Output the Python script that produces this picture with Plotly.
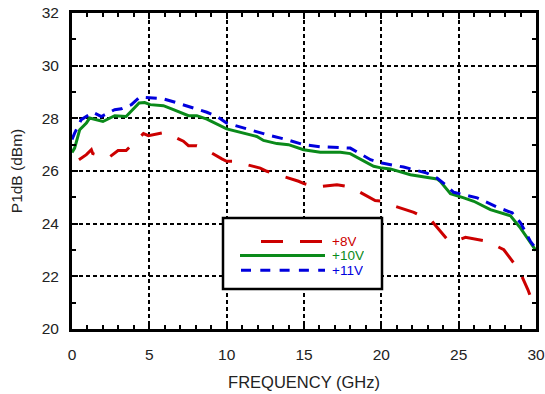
import plotly.graph_objects as go

# +8V
freq_8 = [0.45, 0.93, 1.25, 1.34, 2.33, 2.98, 3.5, 4.62, 4.94, 6.02, 7.2, 7.53, 8.07, 8.4,
          9.69, 10.0, 10.44, 10.87, 12.17, 12.6, 13.35, 14.65, 15.0, 15.84, 17.13, 18.0, 18.32,
          19.6, 20.04, 20.79, 22.1, 23.28, 24.36, 24.79, 25.44, 26.84, 27.92, 28.89, 29.48, 29.6]
p1db_8 = [26.43, 26.62, 26.81, 26.66, 26.49, 26.78, 26.78, 27.42, 27.34, 27.47, 27.13, 26.96, 26.96, 26.9,
          26.46, 26.37, 26.37, 26.3, 26.11, 25.99, 25.86, 25.61, 25.52, 25.39, 25.48, 25.39, 25.29,
          24.88, 24.85, 24.68, 24.43, 24.09, 23.33, 23.33, 23.48, 23.33, 23.01, 22.25, 21.49, 21.3]

# +10V
freq_10 = [0.0, 0.17, 0.5, 0.93, 1.14, 2.0, 2.76, 3.5, 4.34, 4.7, 5.05, 5.91, 6.56, 7.53, 8.07, 8.72,
           10.0, 10.87, 11.95, 12.38, 13.25, 14.0, 14.97, 16.05, 17.35, 17.99, 19.5, 20.04, 20.58,
           21.88, 22.74, 23.6, 23.82, 24.47, 25.33, 25.98, 27.05, 28.35, 29.0, 30.0]
p1db_10 = [26.7, 26.87, 27.57, 27.82, 28.01, 27.88, 28.1, 28.07, 28.58, 28.6, 28.52, 28.48, 28.33, 28.1, 28.1, 27.97,
           27.6, 27.47, 27.31, 27.16, 27.04, 27.0, 26.81, 26.71, 26.71, 26.66, 26.18, 26.11, 26.08,
           25.86, 25.77, 25.7, 25.6, 25.14, 24.98, 24.85, 24.53, 24.3, 23.83, 22.98]

# +11V
freq_11 = [0.0, 0.17, 0.6, 1.36, 1.9, 2.76, 3.19, 3.84, 4.38, 5.05, 5.91, 6.67, 7.86, 8.72, 9.37,
           10.0, 11.3, 12.6, 13.9, 14.97, 16.05, 17.99, 19.3, 20.04, 21.44, 22.95, 23.6, 24.14, 24.68,
           26.2, 27.49, 28.46, 29.0, 29.64, 30.0]
p1db_11 = [27.2, 27.44, 27.95, 28.23, 28.07, 28.33, 28.36, 28.52, 28.81, 28.77, 28.74, 28.61, 28.39, 28.23, 28.07,
           27.82, 27.6, 27.38, 27.19, 27.0, 26.92, 26.87, 26.43, 26.3, 26.15, 25.92, 25.73, 25.48, 25.19,
           24.98, 24.63, 24.41, 24.03, 23.33, 23.05]

legend_labels = ["+8V", "+10V", "+11V"]
x_ticks = [0, 5, 10, 15, 20, 25, 30]
y_ticks = [20, 22, 24, 26, 28, 30, 32]

RED = "#cc0000"
GREEN = "#0a8a1a"
BLUE = "#0000dd"

fig = go.Figure()
fig.add_trace(go.Scatter(x=freq_8, y=p1db_8, mode="lines", name=legend_labels[0],
                         line=dict(color=RED, width=3, dash="22px,17px")))
fig.add_trace(go.Scatter(x=freq_10, y=p1db_10, mode="lines", name=legend_labels[1],
                         line=dict(color=GREEN, width=3)))
fig.add_trace(go.Scatter(x=freq_11, y=p1db_11, mode="lines", name=legend_labels[2],
                         line=dict(color=BLUE, width=3, dash="11px,8px")))

# plot area in pixels: x 72..536, y 13..329
L, R, T, B = 72, 9, 13, 65
W, H = 545, 394
pw, ph = W - L - R, H - T - B

def px(xp):
    return (xp - L) / pw

def py(yp):
    return (H - B - yp) / ph

shapes = [
    dict(type="rect", xref="paper", yref="paper", x0=px(223), x1=px(382), y0=py(289), y1=py(218),
         fillcolor="white", line=dict(color="black", width=2.5), layer="above"),
    dict(type="line", xref="paper", yref="paper", x0=px(261), x1=px(322), y0=py(241.5), y1=py(241.5),
         line=dict(color=RED, width=3, dash="22px,17px"), layer="above"),
    dict(type="line", xref="paper", yref="paper", x0=px(240), x1=px(325), y0=py(255.5), y1=py(255.5),
         line=dict(color=GREEN, width=3), layer="above"),
    dict(type="line", xref="paper", yref="paper", x0=px(241), x1=px(325), y0=py(270.3), y1=py(270.3),
         line=dict(color=BLUE, width=3, dash="10px,9.3px"), layer="above"),
]
annotations = []
for lab, col, yy in zip(legend_labels, [RED, GREEN, BLUE], [241.5, 255.5, 270.3]):
    annotations.append(dict(xref="paper", yref="paper", x=px(331), y=py(yy), text=lab,
                            showarrow=False, xanchor="left", yanchor="middle",
                            height=13, valign="middle", borderpad=0,
                            font=dict(color=col, size=13.5, family="Liberation Sans, Arial, sans-serif")))

axis_common = dict(
    showline=True, linecolor="black", linewidth=3, mirror="allticks",
    ticks="inside", ticklen=6, tickwidth=1.5, tickcolor="black",
    showgrid=True, gridcolor="black", gridwidth=1.5, griddash="4px,3px",
    zeroline=False, automargin=False,
    tickfont=dict(size=15.5, color="#222222", family="Liberation Sans, Arial, sans-serif"),
    minor=dict(ticks="inside", ticklen=4, tickwidth=1.5, tickcolor="black", dtick=1, showgrid=False),
)

fig.update_layout(
    width=W, height=H,
    margin=dict(l=L, r=R, t=T, b=B, autoexpand=False),
    paper_bgcolor="white", plot_bgcolor="white",
    showlegend=False,
    shapes=shapes, annotations=annotations,
    font=dict(family="Liberation Sans, Arial, sans-serif", color="#222222"),
    xaxis=dict(axis_common, range=[0, 30], tickvals=x_ticks, ticktext=[str(v) for v in x_ticks],
               ticklabelstandoff=9,
               title=dict(text="FREQUENCY (GHz)", font=dict(size=16.5), standoff=15)),
    yaxis=dict(axis_common, range=[20, 32], tickvals=y_ticks, ticktext=[str(v) for v in y_ticks],
               ticklabelstandoff=7,
               title=dict(text="P1dB (dBm)", font=dict(size=15.5), standoff=16)),
)

fig.write_html("out.html")
